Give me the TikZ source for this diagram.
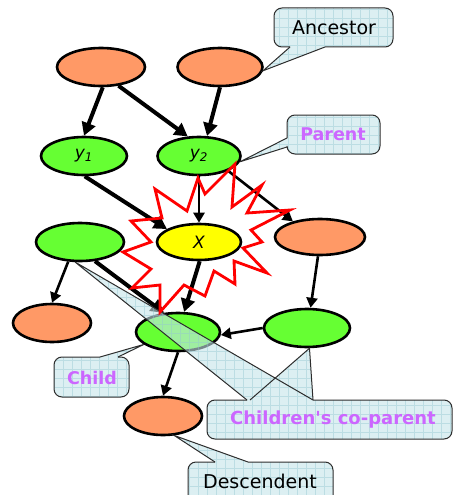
\documentclass[tikz,border=0pt]{standalone}
\usepackage{fontspec}
\setmainfont{DejaVu Sans}[Ligatures=TeXOff]
\usetikzlibrary{shapes.geometric,arrows.meta}
\definecolor{peach}{RGB}{255,153,102}
\definecolor{lime}{RGB}{102,255,51}
\definecolor{ylw}{RGB}{255,255,0}
\definecolor{lbl}{RGB}{204,102,255}
\definecolor{notefill}{RGB}{197,228,233}
\definecolor{notegrid}{RGB}{150,200,210}
\definecolor{noteline}{RGB}{45,45,45}
\definecolor{burst}{RGB}{255,0,0}

% rounded note body, x1,y1,x2,y2 (y grows downwards)
\newcommand\notebody[4]{({(#1+#3)/2},#2) [rounded corners=8pt] -- (#3,#2) -- (#3,#4) -- (#1,#4) -- (#1,#2) -- cycle [sharp corners]}

\begin{document}
\begin{tikzpicture}[x=1pt,y=-1pt,
  var/.style={ellipse, draw=black, line width=2.6pt, inner sep=0pt},
  anc/.style={var, fill=peach},
  nb/.style={var, fill=lime},
  heavy/.style={line width=4pt, -{Triangle[length=13pt,width=14pt]}},
  light/.style={line width=2.6pt, -{Triangle[length=10pt,width=11pt]}},
  notefillstyle/.style={fill=notefill, fill opacity=0.6},
  notegridstyle/.style={draw=notegrid, line width=0.5pt, opacity=0.45},
  noteedge/.style={draw=noteline, line width=1pt},
  blacktext/.style={font=\fontsize{19}{22}\selectfont, text=black},
  purpletext/.style={font=\fontsize{17.5}{21}\selectfont\bfseries, text=lbl},
  varlabel/.style={font=\fontsize{17}{20}\selectfont\itshape}
]
\useasboundingbox (0,0) rectangle (453,495);

% ---------- variables ----------
\node[anc, minimum width=88pt, minimum height=38pt] (A1) at (101,67) {};
\node[anc, minimum width=85pt, minimum height=38pt] (A2) at (220,67) {};
\node[nb,  minimum width=86pt, minimum height=38pt, varlabel] (Y1) at (84,156) {y\textsubscript{1}};
\node[nb,  minimum width=83pt, minimum height=38pt, varlabel] (Y2) at (199,156) {y\textsubscript{2}};
\node[var, fill=ylw, minimum width=84pt, minimum height=36pt, varlabel] (X) at (199,242) {X};
\node[nb,  minimum width=88pt, minimum height=38pt] (L)  at (80,242) {};
\node[anc, minimum width=90pt, minimum height=36pt] (R)  at (320,237) {};
\node[anc, minimum width=78pt, minimum height=38pt] (LL) at (52,323) {};
\node[nb,  minimum width=84pt, minimum height=38pt] (C)  at (178,332) {};
\node[nb,  minimum width=86pt, minimum height=38pt] (RG) at (307,328) {};
\node[anc, minimum width=78pt, minimum height=38pt] (D)  at (163,416) {};

% ---------- edges ----------
\draw[heavy] (A1.-85) -- (Y1.north);
\draw[heavy] (A1.-47) -- (Y2.120);
\draw[heavy] (A2.south) -- (Y2.68);
\draw[heavy] (Y1.-88) -- (X.158);
\draw[light] (Y2.south) -- (X.north);
\draw[light] (Y2.-27) -- (R.150);
\draw[heavy] (X.-88) -- (C.73);
\draw[heavy] (L.-52) -- (C.126);
\draw[light] (L.-121) -- (LL.north);
\draw[light] (R.-96) -- (RG.80);
\draw[light] (RG.west) -- (C.-4);
\draw[light] (C.south) -- (D.north);

% ---------- notes ----------
% Ancestor
\coordinate (ancTip) at (A2.-5);
\path[notefillstyle] (ancTip) -- (290,47) -- (325,47) -- cycle \notebody{274}{8}{393}{47};
\begin{scope}
  \clip (ancTip) -- (290,47) -- (325,47) -- cycle \notebody{274}{8}{393}{47};
  \draw[notegridstyle, step=9pt] (0,0) grid (453,495);
\end{scope}
\draw[noteedge, rounded corners=8pt] (325,47) -- (393,47) -- (393,8) -- (274,8) -- (274,47) -- (290,47);
\draw[noteedge] (290,47) -- (ancTip) -- (325,47);
\node[blacktext] (ancText) at (334,28) {Ancestor};

% Parent
\coordinate (parTip) at (Y2.-8);
\path[notefillstyle] (parTip) -- (287,138) -- (287,147) -- cycle \notebody{287}{115}{380}{154};
\begin{scope}
  \clip (parTip) -- (287,138) -- (287,147) -- cycle \notebody{287}{115}{380}{154};
  \draw[notegridstyle, step=9pt] (0,0) grid (453,495);
\end{scope}
\draw[noteedge, rounded corners=8pt] (287,147) -- (287,154) -- (380,154) -- (380,115) -- (287,115) -- (287,138);
\draw[noteedge] (287,138) -- (parTip) -- (287,147);
\node[purpletext] (parText) at (333,134) {Parent};

% Child
\coordinate (chTip) at (C.-160);
\path[notefillstyle] (chTip) -- (118,357) -- (100,357) -- cycle \notebody{54}{357}{129}{397};
\begin{scope}
  \clip (chTip) -- (118,357) -- (100,357) -- cycle \notebody{54}{357}{129}{397};
  \draw[notegridstyle, step=9pt] (0,0) grid (453,495);
\end{scope}
\draw[noteedge, rounded corners=8pt] (118,357) -- (129,357) -- (129,397) -- (54,397) -- (54,357) -- (100,357);
\draw[noteedge] (100,357) -- (chTip) -- (118,357);
\node[purpletext] (chText) at (92,378) {Child};

% Descendent
\coordinate (dTip) at (D.-60);
\path[notefillstyle] (dTip) -- (248,462) -- (215,462) -- cycle \notebody{188}{462}{333}{512};
\begin{scope}
  \clip (dTip) -- (248,462) -- (215,462) -- cycle \notebody{188}{462}{333}{512};
  \draw[notegridstyle, step=9pt] (0,0) grid (453,495);
\end{scope}
\draw[noteedge, rounded corners=8pt] (248,462) -- (333,462) -- (333,512) -- (188,512) -- (188,462) -- (215,462);
\draw[noteedge] (215,462) -- (dTip) -- (248,462);
\node[blacktext] (dText) at (260,481) {Descendent};

% Children's co-parent (two pointers)
\coordinate (cpTipA) at (75,262);
\coordinate (cpTipB) at (RG.-83);
\path[notefillstyle] (cpTipA) -- (313,400) -- (247,400) -- cycle
                     (cpTipB) -- (313,400) -- (250,400) -- cycle
                     \notebody{207}{400}{452}{439};
\begin{scope}
  \clip (cpTipA) -- (313,400) -- (247,400) -- cycle
        (cpTipB) -- (313,400) -- (250,400) -- cycle
        \notebody{207}{400}{452}{439};
  \draw[notegridstyle, step=9pt] (0,0) grid (453,495);
\end{scope}
\draw[noteedge, rounded corners=8pt] (313,400) -- (452,400) -- (452,439) -- (207,439) -- (207,400) -- (247,400);
\draw[noteedge] (247,400) -- (cpTipA) -- (313,400);
\draw[noteedge] (250,400) -- (cpTipB) -- (313,400);
\node[purpletext, font=\fontsize{18}{21}\selectfont\bfseries] (cpText) at (333,420) {Children's co-parent};

% ---------- burst around X ----------
\draw[burst, line width=2.8pt, line join=miter, miter limit=12]
  (131,221) -- (162,218) -- (155,189) -- (187,211) -- (198,178) -- (205,194)
  -- (235,164) -- (232,207) -- (262,185) -- (247,213) -- (290,210) -- (251,230)
  -- (262,242) -- (243,248) -- (267,273) -- (234,261) -- (235,284) -- (214,271)
  -- (205,296) -- (184,285) -- (160,312) -- (160,285) -- (132,288) -- (151,269)
  -- (123,252) -- (151,242) -- cycle;
\end{tikzpicture}
\end{document}
